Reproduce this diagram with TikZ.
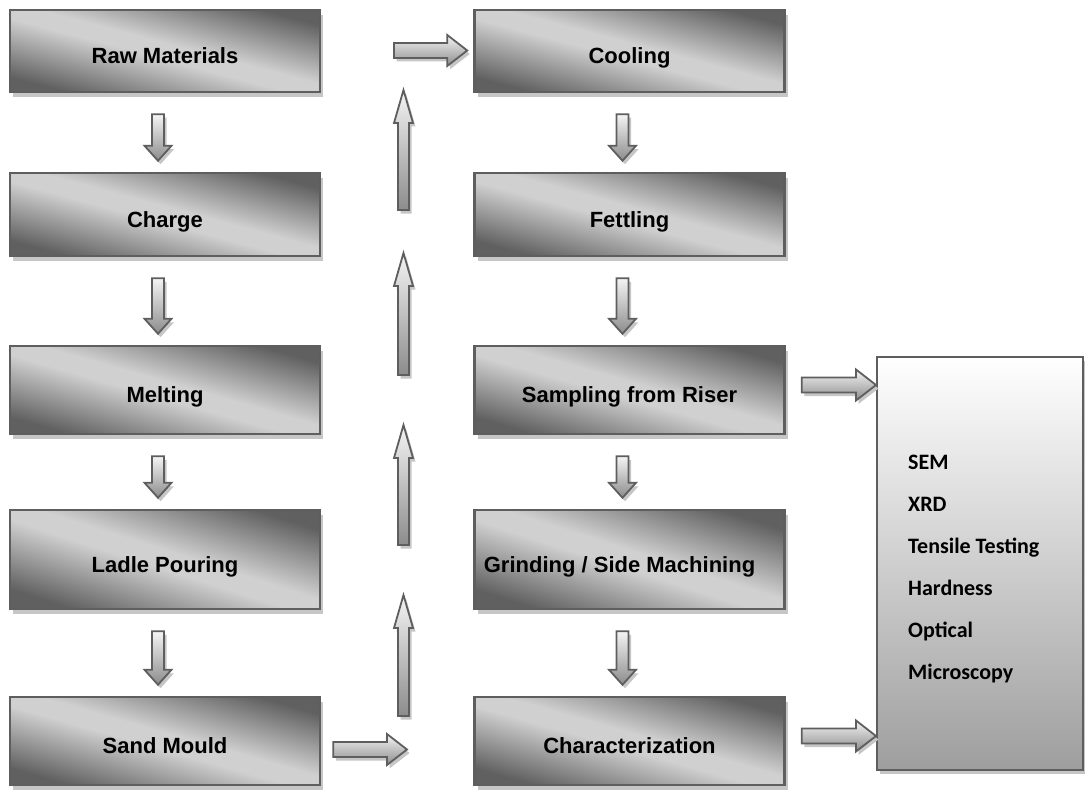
\documentclass[tikz,border=0pt]{standalone}
\usepackage{fontspec}
\setmainfont{Liberation Sans}
\newfontfamily\calibri{Carlito}
\usetikzlibrary{calc,shadows}
\definecolor{edge}{HTML}{5E5E5E}
\definecolor{boxdark}{HTML}{606060}
\definecolor{boxlight}{HTML}{D0D0D0}
\definecolor{shadowc}{HTML}{C6C6C6}
\definecolor{arrowlight}{HTML}{F4F4F4}
\definecolor{arrowdark}{HTML}{8C8C8C}
\definecolor{testlow}{HTML}{9E9E9E}

% band shading: dark at 25bp and 75bp (the path's extent), light in the middle
\pgfdeclareverticalshading{stageshade}{100bp}{color(0bp)=(boxdark); color(25bp)=(boxdark);
  color(47bp)=(boxlight); color(53bp)=(boxlight); color(75bp)=(boxdark); color(100bp)=(boxdark)}

\tikzset{
  stage/.style={minimum width=310pt, minimum height=83pt, inner sep=0pt,
    draw=edge, line width=2.5pt, shading=stageshade, shading angle=-15,
    drop shadow={shadow xshift=3pt, shadow yshift=-5pt, fill=shadowc, opacity=1},
    text height=25.8pt, text depth=0pt,
    font=\bfseries\fontsize{22}{26}\selectfont},
  blockarrow/.style={draw=edge, line width=1.8pt, line join=miter,
    drop shadow={shadow xshift=2.5pt, shadow yshift=-3.5pt, fill=shadowc, opacity=1}},
  testbox/.style={minimum width=206pt, minimum height=413pt, inner sep=0pt,
    draw=edge, line width=2pt, top color=white, bottom color=testlow,
    drop shadow={shadow xshift=3pt, shadow yshift=-4pt, fill=shadowc, opacity=1}},
  testitem/.style={anchor=base west, inner sep=0pt,
    font=\calibri\bfseries\fontsize{22}{26}\selectfont}
}

\newcommand\rightblock[2]{%
  \draw[blockarrow, top color=arrowlight, bottom color=arrowdark]
    let \p1=(#1), \p2=(#2) in
    (\x1,\y1+7.5pt) -- (\x2-20pt,\y1+7.5pt) -- (\x2-20pt,\y1+15.5pt) -- (\x2,\y1)
    -- (\x2-20pt,\y1-15.5pt) -- (\x2-20pt,\y1-7.5pt) -- (\x1,\y1-7.5pt) -- cycle;}
\newcommand\downblock[2]{%
  \draw[blockarrow, top color=arrowlight, bottom color=arrowdark]
    let \p1=(#1), \p2=(#2) in
    (\x1-6pt,\y1) -- (\x1+6pt,\y1) -- (\x1+6pt,\y2+15pt) -- (\x1+13.5pt,\y2+15pt)
    -- (\x1,\y2) -- (\x1-13.5pt,\y2+15pt) -- (\x1-6pt,\y2+15pt) -- cycle;}
\newcommand\upblock[2]{%
  \draw[blockarrow, top color=arrowlight, bottom color=arrowdark]
    let \p1=(#1), \p2=(#2) in
    (\x1-5.5pt,\y1) -- (\x1-5.5pt,\y2-33pt) -- (\x1-9.5pt,\y2-33pt) -- (\x1,\y2)
    -- (\x1+9.5pt,\y2-33pt) -- (\x1+5.5pt,\y2-33pt) -- (\x1+5.5pt,\y1) -- cycle;}

\begin{document}
\begin{tikzpicture}[x=1pt, y=-1pt]
\useasboundingbox (0,0) rectangle (1085,797);

% left column
\node[stage, minimum height=82pt, shading angle=-14.85] (raw)    at (165,51)    {Raw Materials};
\node[stage, minimum height=83pt, shading angle=-14.99] (charge) at (165,214.5) {Charge};
\node[stage, minimum height=88pt, shading angle=-15.85] (melt)   at (165,390)   {Melting};
\node[stage, minimum height=99pt, shading angle=-17.71] (ladle)  at (165,559.5) {Ladle Pouring};
\node[stage, minimum height=88pt, shading angle=-15.85] (sand)   at (165,741)   {Sand Mould};

% middle column
\node[stage, minimum height=82pt, shading angle=-14.85] (cool)   at (629.5,51)    {Cooling};
\node[stage, minimum height=83pt, shading angle=-14.99] (fettle) at (629.5,214.5) {Fettling};
\node[stage, minimum height=88pt, shading angle=-15.85] (sample) at (629.5,390)   {Sampling from Riser};
\node[stage, minimum height=99pt, shading angle=-17.71] (grind)  at (629.5,559.5) {\hspace*{-20pt}Grinding / Side Machining};
\node[stage, minimum height=88pt, shading angle=-15.85] (charac) at (629.5,741)   {Characterization};

% test box
\node[testbox] (tests) at (980,563.5) {};
\node[testitem] (t1) at (908,469) {SEM};
\node[testitem] (t2) at (908,511) {XRD};
\node[testitem] (t3) at (908,553) {Tensile Testing};
\node[testitem] (t4) at (908,595) {Hardness};
\node[testitem] (t5) at (908,637) {Optical};
\node[testitem] (t6) at (908,679) {Microscopy};

% down arrows, left
\downblock{$(raw.south)+(-7,21)$}{$(charge.north)+(-7,-11)$}
\downblock{$(charge.south)+(-7,21)$}{$(melt.north)+(-7,-11)$}
\downblock{$(melt.south)+(-7,21)$}{$(ladle.north)+(-7,-11)$}
\downblock{$(ladle.south)+(-7,21)$}{$(sand.north)+(-7,-11)$}
% down arrows, middle
\downblock{$(cool.south)+(-7,21)$}{$(fettle.north)+(-7,-11)$}
\downblock{$(fettle.south)+(-7,21)$}{$(sample.north)+(-7,-11)$}
\downblock{$(sample.south)+(-7,21)$}{$(grind.north)+(-7,-11)$}
\downblock{$(grind.south)+(-7,21)$}{$(charac.north)+(-7,-11)$}

% path from sand mould up to cooling
\coordinate (sm1) at ($(sand.east)+(12,8.5)$);
\coordinate (sm2) at (407,749.5);
\rightblock{sm1}{sm2}
\coordinate (u4b) at (403.5,716); \coordinate (u4t) at (403.5,595);
\coordinate (u3b) at (403.5,545); \coordinate (u3t) at (403.5,425);
\coordinate (u2b) at (403.5,375); \coordinate (u2t) at (403.5,253);
\coordinate (u1b) at (403.5,210); \coordinate (u1t) at (403.5,90);
\upblock{u4b}{u4t}
\upblock{u3b}{u3t}
\upblock{u2b}{u2t}
\upblock{u1b}{u1t}
\coordinate (c1) at (394,50.5);
\rightblock{c1}{$(cool.west)+(-6,-0.5)$}

% to tests
\coordinate (s1) at ($(sample.east)+(16,-5)$);
\rightblock{s1}{s1 -| tests.west}
\coordinate (s2) at ($(charac.east)+(16,-5)$);
\rightblock{s2}{s2 -| tests.west}
\end{tikzpicture}
\end{document}
